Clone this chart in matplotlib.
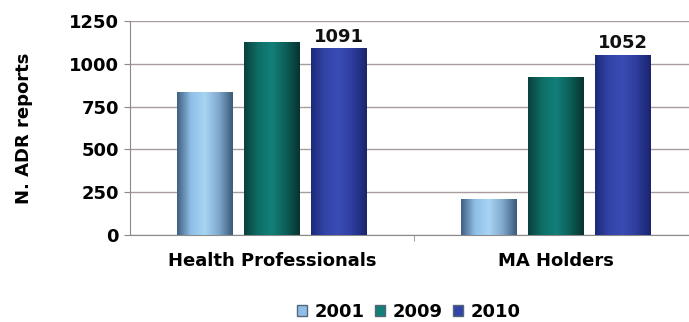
import matplotlib.pyplot as plt
import numpy as np
from matplotlib.colors import LinearSegmentedColormap
from matplotlib.patches import Patch

categories = ['Health Professionals', 'MA Holders']
years = ['2001', '2009', '2010']
values = {
    '2001': [835, 210],
    '2009': [1127, 923],
    '2010': [1091, 1052],
}
labels_2010 = [1091, 1052]

# colour ramps: edge -> centre -> edge (cylinder look)
ramps = {
    '2001': ['#3f5f7f', '#8fbfe8', '#a8d4f4', '#7fa8cc', '#3a5a78'],
    '2009': ['#0a3f3c', '#0e6e66', '#12807a', '#0c5f58', '#083230'],
    '2010': ['#1c2a78', '#3344a8', '#3a4cb4', '#2d3c9c', '#1a246c'],
}
legend_colors = {'2001': '#8fbfe8', '2009': '#128078', '2010': '#3344a8'}

fs = 13

fig = plt.figure(figsize=(6.89, 3.22), dpi=100)
ax = fig.add_axes([130 / 689, 87 / 322, 559 / 689, 214 / 322])

x = np.arange(len(categories))
width = 0.194
step = 0.236
grad = np.linspace(0, 1, 256).reshape(1, -1)

for i, yr in enumerate(years):
    pos = x + (i - 1) * step
    bars = ax.bar(pos, values[yr], width, color='none', edgecolor='none', zorder=3)
    cmap = LinearSegmentedColormap.from_list('c' + yr, ramps[yr])
    for b in bars:
        x0, w, h = b.get_x(), b.get_width(), b.get_height()
        im = ax.imshow(grad, cmap=cmap, aspect='auto', extent=[x0, x0 + w, 0, h],
                       zorder=3, interpolation='bicubic')
        im.set_clip_path(b)

for xi, v in zip(x + step, labels_2010):
    ax.text(xi, v + 15, str(v), ha='center', va='bottom', fontsize=fs,
            fontweight='bold', color='#111111')

ax.set_xlim(-0.5, 1.47)
ax.set_ylim(0, 1250)
ax.set_yticks(range(0, 1251, 250))
ax.yaxis.grid(True, color='#a89c9c', linewidth=1.0, zorder=0)
ax.set_axisbelow(True)
ax.set_xticks(x)
ax.set_xticklabels(categories, fontsize=fs, fontweight='bold')
ax.set_xticks([0.5], minor=True)
ax.tick_params(axis='x', which='major', length=0, pad=12)
ax.tick_params(axis='x', which='minor', length=4, color='#8a8a8a', direction='out')
ax.tick_params(axis='y', length=4, color='#8a8a8a', labelsize=fs, pad=4)
for lbl in ax.get_yticklabels():
    lbl.set_fontweight('bold')
for s in ['top', 'right']:
    ax.spines[s].set_visible(False)
for s in ['left', 'bottom']:
    ax.spines[s].set_color('#8a8a8a')
ax.set_ylabel('N. ADR reports', fontsize=fs, fontweight='bold', labelpad=26)

handles = [Patch(facecolor=legend_colors[y], edgecolor='#556677', label=y) for y in years]
fig.legend(handles=handles, loc='center', bbox_to_anchor=(409 / 689, 1 - 312 / 322),
           ncol=3, frameon=False, prop={'weight': 'bold', 'size': fs},
           handlelength=0.55, handleheight=0.55, handletextpad=0.4, columnspacing=0.6)

fig.savefig('out.png', dpi=100)
